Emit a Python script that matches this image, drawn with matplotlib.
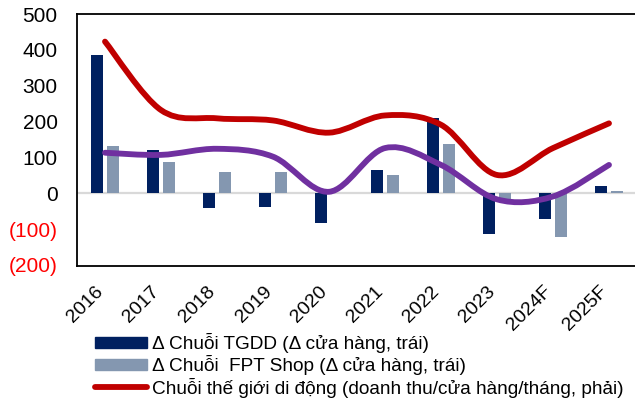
import matplotlib
matplotlib.use("Agg")
import matplotlib.pyplot as plt
import numpy as np
from matplotlib.path import Path
from matplotlib.patches import PathPatch, Patch
from matplotlib.lines import Line2D
import matplotlib.transforms as mtransforms

plt.rcParams['font.family'] = ['Liberation Sans', 'DejaVu Sans']

categories = ["2016", "2017", "2018", "2019", "2020", "2021", "2022", "2023", "2024F", "2025F"]
tgdd_delta = [386, 120, -42, -38, -84, 65, 209, -115, -72, 20]
fpt_delta = [132, 87, 58, 58, 0, 50, 138, -15, -122, 7]
tgdd_rev = [423, 232, 209, 203, 169, 217, 191, 51, 126, 195]
fpt_rev = [113, 107, 124, 102, 4, 126, 79, -17, -9, 79]
yticks = [-200, -100, 0, 100, 200, 300, 400, 500]
ytick_labels = ["(200)", "(100)", "0", "100", "200", "300", "400", "500"]

labels = ["Δ Chuỗi TGDD (Δ cửa hàng, trái)",
          "Δ Chuỗi  FPT Shop (Δ cửa hàng, trái)",
          "Chuỗi thế giới di động (doanh thu/cửa hàng/tháng, phải)"]

C_TGDD = "#002060"
C_FPT = "#8497B0"
C_RED = "#C00000"
C_PURPLE = "#7030A0"

W, H = 635, 407
fig = plt.figure(figsize=(W / 100, H / 100), dpi=100)
ax = fig.add_axes([77 / W, 1 - 266 / H, 560 / W, 252 / H])

x = np.arange(len(categories))
bw = 0.215
ax.bar(x - 0.14, tgdd_delta, width=bw, color=C_TGDD, zorder=2)
ax.bar(x + 0.14, fpt_delta, width=bw, color=C_FPT, zorder=2)
ax.axhline(0, color="#D9D9D9", lw=1.6, zorder=1)


def smooth_path(xs, ys):
    pts = np.column_stack([xs, ys]).astype(float)
    n = len(pts)
    verts = [pts[0]]
    codes = [Path.MOVETO]
    for i in range(n - 1):
        p0 = pts[i - 1] if i > 0 else pts[i]
        p1 = pts[i]
        p2 = pts[i + 1]
        p3 = pts[i + 2] if i + 2 < n else pts[i + 1]
        c1 = p1 + (p2 - p0) / 6.0
        c2 = p2 - (p3 - p1) / 6.0
        verts += [c1, c2, p2]
        codes += [Path.CURVE4] * 3
    return Path(verts, codes)


for ys, col in [(tgdd_rev, C_RED), (fpt_rev, C_PURPLE)]:
    pp = PathPatch(smooth_path(x, ys), facecolor="none", edgecolor=col,
                   lw=4.2, capstyle="round", joinstyle="round", zorder=3)
    ax.add_patch(pp)

ax.set_xlim(-0.5, 9.5)
ax.set_ylim(-203, 500)
ax.set_yticks(yticks)
ax.set_yticklabels(ytick_labels)
for t, v in zip(ax.get_yticklabels(), yticks):
    t.set_color("#FF0000" if v < 0 else "black")
ax.tick_params(axis="y", length=0, pad=14, labelsize=15)
ax.set_xticks(x)
ax.set_xticklabels(categories, rotation=45, ha="right", rotation_mode="default")
ax.tick_params(axis="x", length=0, pad=12, labelsize=14)
offset = mtransforms.ScaledTranslation(2 / 100, 0, fig.dpi_scale_trans)
for t in ax.get_xticklabels():
    t.set_transform(t.get_transform() + offset)

for s in ax.spines.values():
    s.set_color("black")
    s.set_linewidth(1.3)

handles = [Patch(color=C_TGDD), Patch(color=C_FPT),
           Line2D([], [], color=C_RED, lw=4.2, solid_capstyle="round")]
fig.legend(handles, labels, loc="upper left",
           bbox_to_anchor=(95 / W, 1 - 333 / H), frameon=False,
           fontsize=13.7, handlelength=2.73, handleheight=0.53,
           handletextpad=0.26, labelspacing=0.12, borderpad=0, borderaxespad=0)

fig.savefig("out.png", dpi=100)
